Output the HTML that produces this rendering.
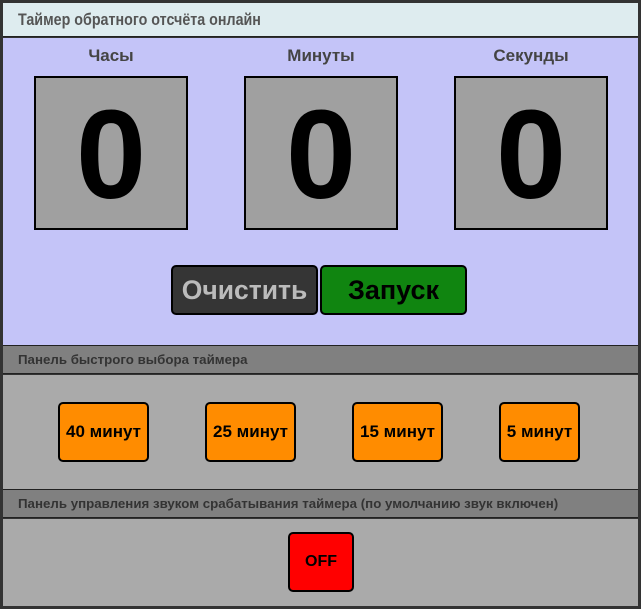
<!DOCTYPE html>
<html><head><meta charset="utf-8"><style>
*{margin:0;padding:0;box-sizing:border-box}
body{width:641px;height:609px;background:#333;font-family:"Liberation Sans",sans-serif;position:relative;overflow:hidden}
.a{position:absolute}
.hdr{left:3px;top:3px;width:635px;height:34px;background:#deecef;border-bottom:1px solid #222}
.hdr span{position:absolute;left:15px;top:7px;font-size:17px;font-weight:bold;color:#555;transform:scaleX(0.84);transform-origin:0 0;white-space:nowrap}
.blue{left:3px;top:38px;width:635px;height:308px;background:#c4c4f8}
.lbl{font-size:17px;font-weight:bold;color:#444;text-align:center;width:154px;top:46px}
.box{width:154px;height:154px;top:76px;background:#a0a0a0;border:2px solid #000;text-align:center;line-height:154px;font-size:126px;font-weight:bold;color:#000}
.btn{border:2px solid #000;border-radius:5px;text-align:center;font-weight:bold}
.bar{left:3px;width:635px;height:29px;background:#808080;border-top:1px solid #222;border-bottom:1px solid #222;font-size:13.3px;font-weight:bold;color:#333;padding:6px 0 0 15px;white-space:nowrap}
.panel{left:3px;width:635px;background:#aaa}
.or{top:402px;height:60px;background:#ff8c00;font-size:17px;line-height:56px;color:#000;white-space:nowrap}
</style></head><body>
<div class="a hdr"><span>Таймер обратного отсчёта онлайн</span></div>
<div class="a blue"></div>
<div class="a lbl" style="left:34px">Часы</div>
<div class="a lbl" style="left:244px">Минуты</div>
<div class="a lbl" style="left:454px">Секунды</div>
<div class="a box" style="left:34px">0</div>
<div class="a box" style="left:244px">0</div>
<div class="a box" style="left:454px">0</div>
<div class="a btn" style="left:171px;top:265px;width:147px;height:50px;background:#353535;color:#bbb;font-size:26.5px;line-height:46px">Очистить</div>
<div class="a btn" style="left:320px;top:265px;width:147px;height:50px;background:#108510;color:#000;font-size:27px;line-height:46px">Запуск</div>
<div class="a bar" style="top:345px">Панель быстрого выбора таймера</div>
<div class="a panel" style="top:375px;height:114px"></div>
<div class="a btn or" style="left:58px;width:91px">40 минут</div>
<div class="a btn or" style="left:205px;width:91px">25 минут</div>
<div class="a btn or" style="left:352px;width:91px">15 минут</div>
<div class="a btn or" style="left:499px;width:81px">5 минут</div>
<div class="a bar" style="top:489px">Панель управления звуком срабатывания таймера (по умолчанию звук включен)</div>
<div class="a panel" style="top:519px;height:87px"></div>
<div class="a btn" style="left:288px;top:532px;width:66px;height:60px;background:#f00;font-size:16px;line-height:56px">OFF</div>
</body></html>
